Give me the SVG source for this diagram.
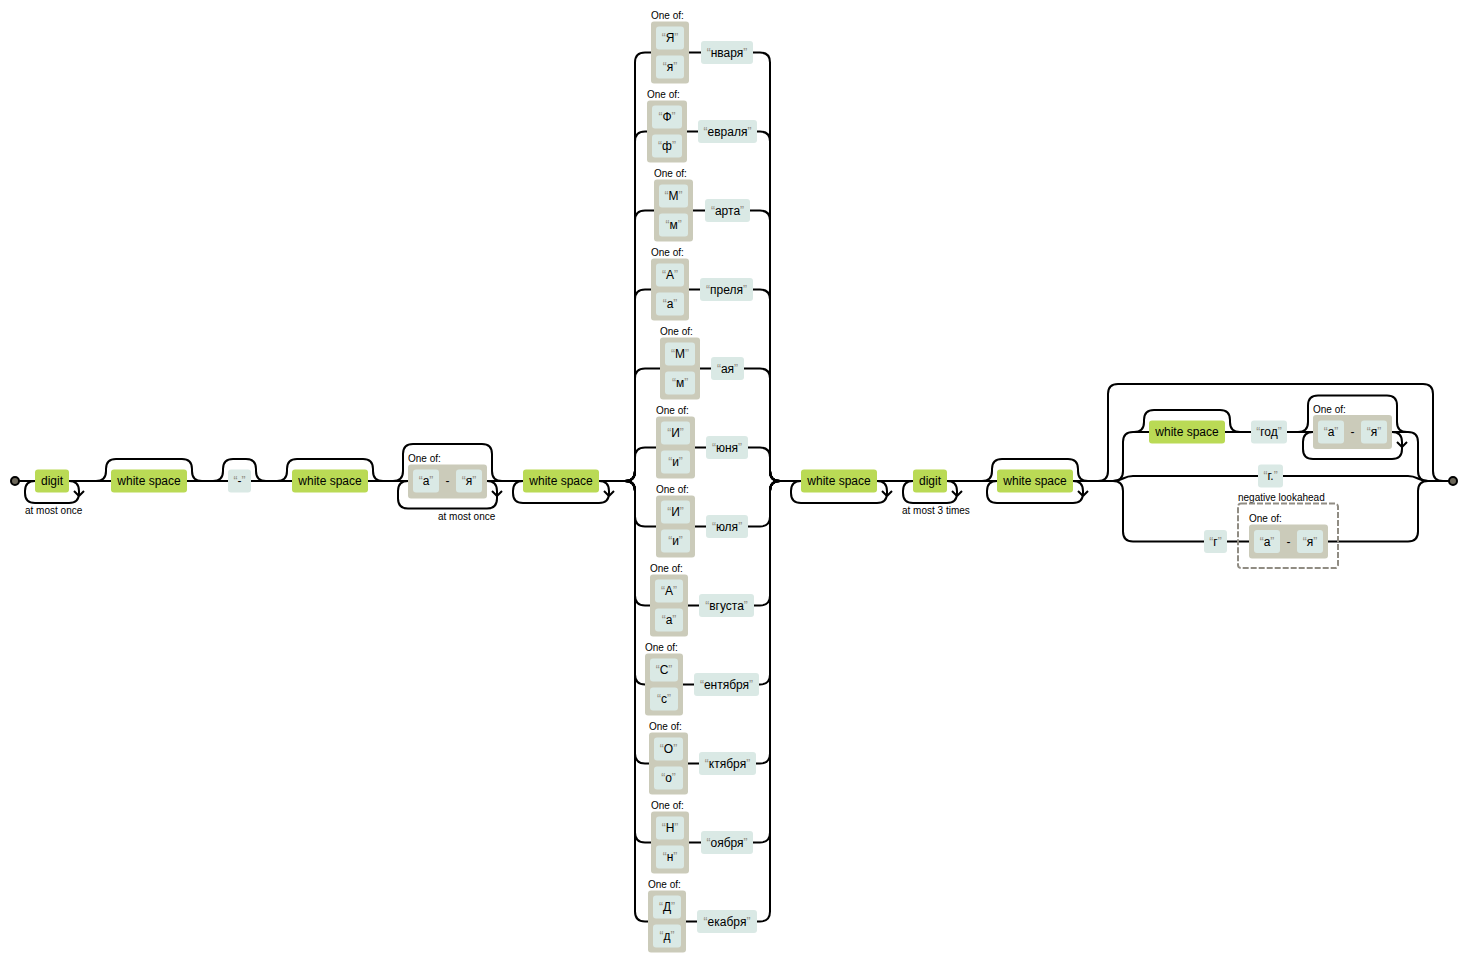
<svg xmlns="http://www.w3.org/2000/svg" width="1468" height="963" viewBox="0 0 1468 963">
<style>
text { font-family: "Liberation Sans", Arial, sans-serif; font-size: 12px; fill: #000; }
.m { text-anchor: middle; }
.s { font-size: 10px; }
.q { fill: #908c83; }
.conn path { fill: none; stroke: #000; stroke-width: 2; }
.lit { fill: #dae9e5; }
.esc { fill: #bada55; }
.cs { fill: #cbcbba; }
.la { fill: none; stroke: #908c83; stroke-width: 2; stroke-dasharray: 6,2; }
.pt { fill: #6b6659; stroke: #000; stroke-width: 2; }
</style>
<rect width="1468" height="963" fill="#fff"/>
<g class="conn" id="connectors">
<path d="M15,481 H625"/>
<path d="M780,481 H1113"/>
<path d="M1428,481 H1453"/>
<!-- digit loop -->
<path d="M35,481 q-10,0 -10,10 v2 q0,10 10,10 h34 q10,0 10,-10 v-2 q0,-10 -10,-10"/>
<path d="M79,496 l-5,-5 m5,5 l5,-5"/>
<!-- skips -->
<path d="M96,481 q10,0 10,-10 v-2 q0,-10 10,-10 H182 q10,0 10,10 v2 q0,10 10,10"/>
<path d="M213,481 q10,0 10,-10 v-2 q0,-10 10,-10 H246 q10,0 10,10 v2 q0,10 10,10"/>
<path d="M277,481 q10,0 10,-10 v-2 q0,-10 10,-10 H363 q10,0 10,10 v2 q0,10 10,10"/>
<path d="M393,481 q10,0 10,-10 v-17 q0,-10 10,-10 H482 q10,0 10,10 v17 q0,10 10,10"/>
<path d="M408,481 q-10,0 -10,10 v7.5 q0,10 10,10 h79 q10,0 10,-10 v-7.5 q0,-10 -10,-10"/>
<path d="M497,496 l-5,-5 m5,5 l5,-5"/>
<path d="M523,481 q-10,0 -10,10 v2 q0,10 10,10 h76 q10,0 10,-10 v-2 q0,-10 -10,-10"/>
<path d="M609,496 l-5,-5 m5,5 l5,-5"/>
<!-- months alternation -->
<path d="M625,481 q10,0 10,-10 V62.5 q0,-10 10,-10 H760 q10,0 10,10 V471 q0,10 10,10"/>
<path d="M625,481 q10,0 10,-10 V141.5 q0,-10 10,-10 H760 q10,0 10,10 V471 q0,10 10,10"/>
<path d="M625,481 q10,0 10,-10 V220.5 q0,-10 10,-10 H760 q10,0 10,10 V471 q0,10 10,10"/>
<path d="M625,481 q10,0 10,-10 V299.5 q0,-10 10,-10 H760 q10,0 10,10 V471 q0,10 10,10"/>
<path d="M625,481 q10,0 10,-10 V378.5 q0,-10 10,-10 H760 q10,0 10,10 V471 q0,10 10,10"/>
<path d="M625,481 q10,0 10,-10 V457.5 q0,-10 10,-10 H760 q10,0 10,10 V471 q0,10 10,10"/>
<path d="M625,481 q10,0 10,10 V516.5 q0,10 10,10 H760 q10,0 10,-10 V491 q0,-10 10,-10"/>
<path d="M625,481 q10,0 10,10 V595.5 q0,10 10,10 H760 q10,0 10,-10 V491 q0,-10 10,-10"/>
<path d="M625,481 q10,0 10,10 V674.5 q0,10 10,10 H760 q10,0 10,-10 V491 q0,-10 10,-10"/>
<path d="M625,481 q10,0 10,10 V753.5 q0,10 10,10 H760 q10,0 10,-10 V491 q0,-10 10,-10"/>
<path d="M625,481 q10,0 10,10 V832.5 q0,10 10,10 H760 q10,0 10,-10 V491 q0,-10 10,-10"/>
<path d="M625,481 q10,0 10,10 V911.5 q0,10 10,10 H760 q10,0 10,-10 V491 q0,-10 10,-10"/>
<!-- after months -->
<path d="M801,481 q-10,0 -10,10 v2 q0,10 10,10 h76 q10,0 10,-10 v-2 q0,-10 -10,-10"/>
<path d="M887,496 l-5,-5 m5,5 l5,-5"/>
<path d="M913,481 q-10,0 -10,10 v2 q0,10 10,10 h34 q10,0 10,-10 v-2 q0,-10 -10,-10"/>
<path d="M957,496 l-5,-5 m5,5 l5,-5"/>
<path d="M982,481 q10,0 10,-10 v-2 q0,-10 10,-10 H1068 q10,0 10,10 v2 q0,10 10,10"/>
<path d="M997,481 q-10,0 -10,10 v2 q0,10 10,10 h76 q10,0 10,-10 v-2 q0,-10 -10,-10"/>
<path d="M1083,496 l-5,-5 m5,5 l5,-5"/>
<!-- outer optional group -->
<path d="M1098,481 q10,0 10,-10 V394 q0,-10 10,-10 H1423 q10,0 10,10 V471 q0,10 10,10"/>
<!-- inner alternation -->
<path d="M1113,481 q10,0 10,-10 V442 q0,-10 10,-10 H1408 q10,0 10,10 V471 q0,10 10,10"/>
<path d="M1113,481 c10,0 10,-5 20,-5 H1408 c10,0 10,5 20,5"/>
<path d="M1113,481 q10,0 10,10 V531.5 q0,10 10,10 H1408 q10,0 10,-10 V491 q0,-10 10,-10"/>
<path d="M1134,432 q10,0 10,-10 v-2 q0,-10 10,-10 H1220 q10,0 10,10 v2 q0,10 10,10"/>
<path d="M1298,432 q10,0 10,-10 v-16.5 q0,-10 10,-10 H1387 q10,0 10,10 v16.5 q0,10 10,10"/>
<path d="M1313,432 q-10,0 -10,10 v7 q0,10 10,10 h79 q10,0 10,-10 v-7 q0,-10 -10,-10"/>
<path d="M1402,447 l-5,-5 m5,5 l5,-5"/>
</g>
<g id="start"><circle class="pt" cx="15" cy="481" r="4"/></g>
<g id="end"><circle class="pt" cx="1453" cy="481" r="4"/></g>
<g id="digit1">
<rect class="esc" x="35" y="469.5" width="34" height="23" rx="3"/>
<text class="m" x="52" y="485">digit</text>
<text class="s" x="25" y="514">at most once</text>
</g>
<g id="ws1">
<rect class="esc" x="111" y="469.5" width="76" height="23" rx="3"/>
<text class="m" x="149" y="485">white space</text>
</g>
<g id="dash">
<rect class="lit" x="228" y="469.5" width="23" height="23" rx="3"/>
<text class="m" x="239.5" y="485"><tspan class="q">“</tspan>-<tspan class="q">”</tspan></text>
</g>
<g id="ws2">
<rect class="esc" x="292" y="469.5" width="76" height="23" rx="3"/>
<text class="m" x="330" y="485">white space</text>
</g>
<g id="cs1">
<text class="s" x="408" y="462">One of:</text>
<rect class="cs" x="408" y="464.5" width="79" height="34" rx="3"/>
<rect class="lit" x="413" y="469.5" width="26" height="23" rx="3"/>
<text class="m" x="426" y="485"><tspan class="q">“</tspan>а<tspan class="q">”</tspan></text>
<text class="m" x="447.5" y="485">-</text>
<rect class="lit" x="456" y="469.5" width="26" height="23" rx="3"/>
<text class="m" x="469" y="485"><tspan class="q">“</tspan>я<tspan class="q">”</tspan></text>
<text class="s" x="438" y="520">at most once</text>
</g>
<g id="ws3">
<rect class="esc" x="523" y="469.5" width="76" height="23" rx="3"/>
<text class="m" x="561" y="485">white space</text>
</g>
<g id="m1">
<text class="s" x="651" y="19">One of:</text>
<rect class="cs" x="651" y="21.5" width="38" height="62" rx="3"/>
<rect class="lit" x="656" y="26.5" width="28" height="23" rx="3"/>
<text class="m" x="670" y="42"><tspan class="q">“</tspan>Я<tspan class="q">”</tspan></text>
<rect class="lit" x="656" y="55.5" width="28" height="23" rx="3"/>
<text class="m" x="670" y="71"><tspan class="q">“</tspan>я<tspan class="q">”</tspan></text>
<rect class="lit" x="701" y="41" width="52" height="23" rx="3"/>
<text class="m" x="727" y="56.5"><tspan class="q">“</tspan>нваря<tspan class="q">”</tspan></text>
</g>
<g id="m2">
<text class="s" x="647" y="98">One of:</text>
<rect class="cs" x="647" y="100.5" width="40" height="62" rx="3"/>
<rect class="lit" x="652" y="105.5" width="30" height="23" rx="3"/>
<text class="m" x="667" y="121"><tspan class="q">“</tspan>Ф<tspan class="q">”</tspan></text>
<rect class="lit" x="652" y="134.5" width="30" height="23" rx="3"/>
<text class="m" x="667" y="150"><tspan class="q">“</tspan>ф<tspan class="q">”</tspan></text>
<rect class="lit" x="698" y="120" width="59" height="23" rx="3"/>
<text class="m" x="727.5" y="135.5"><tspan class="q">“</tspan>евраля<tspan class="q">”</tspan></text>
</g>
<g id="m3">
<text class="s" x="654" y="177">One of:</text>
<rect class="cs" x="654" y="179.5" width="39" height="62" rx="3"/>
<rect class="lit" x="659" y="184.5" width="29" height="23" rx="3"/>
<text class="m" x="673.5" y="200"><tspan class="q">“</tspan>М<tspan class="q">”</tspan></text>
<rect class="lit" x="659" y="213.5" width="29" height="23" rx="3"/>
<text class="m" x="673.5" y="229"><tspan class="q">“</tspan>м<tspan class="q">”</tspan></text>
<rect class="lit" x="705" y="199" width="45" height="23" rx="3"/>
<text class="m" x="727.5" y="214.5"><tspan class="q">“</tspan>арта<tspan class="q">”</tspan></text>
</g>
<g id="m4">
<text class="s" x="651" y="256">One of:</text>
<rect class="cs" x="651" y="258.5" width="38" height="62" rx="3"/>
<rect class="lit" x="656" y="263.5" width="28" height="23" rx="3"/>
<text class="m" x="670" y="279"><tspan class="q">“</tspan>А<tspan class="q">”</tspan></text>
<rect class="lit" x="656" y="292.5" width="28" height="23" rx="3"/>
<text class="m" x="670" y="308"><tspan class="q">“</tspan>а<tspan class="q">”</tspan></text>
<rect class="lit" x="700" y="278" width="53" height="23" rx="3"/>
<text class="m" x="726.5" y="293.5"><tspan class="q">“</tspan>преля<tspan class="q">”</tspan></text>
</g>
<g id="m5">
<text class="s" x="660" y="335">One of:</text>
<rect class="cs" x="660" y="337.5" width="40" height="62" rx="3"/>
<rect class="lit" x="665" y="342.5" width="30" height="23" rx="3"/>
<text class="m" x="680" y="358"><tspan class="q">“</tspan>М<tspan class="q">”</tspan></text>
<rect class="lit" x="665" y="371.5" width="30" height="23" rx="3"/>
<text class="m" x="680" y="387"><tspan class="q">“</tspan>м<tspan class="q">”</tspan></text>
<rect class="lit" x="711" y="357" width="33" height="23" rx="3"/>
<text class="m" x="727.5" y="372.5"><tspan class="q">“</tspan>ая<tspan class="q">”</tspan></text>
</g>
<g id="m6">
<text class="s" x="656" y="414">One of:</text>
<rect class="cs" x="656" y="416.5" width="39" height="62" rx="3"/>
<rect class="lit" x="661" y="421.5" width="29" height="23" rx="3"/>
<text class="m" x="675.5" y="437"><tspan class="q">“</tspan>И<tspan class="q">”</tspan></text>
<rect class="lit" x="661" y="450.5" width="29" height="23" rx="3"/>
<text class="m" x="675.5" y="466"><tspan class="q">“</tspan>и<tspan class="q">”</tspan></text>
<rect class="lit" x="706" y="436" width="42" height="23" rx="3"/>
<text class="m" x="727" y="451.5"><tspan class="q">“</tspan>юня<tspan class="q">”</tspan></text>
</g>
<g id="m7">
<text class="s" x="656" y="493">One of:</text>
<rect class="cs" x="656" y="495.5" width="39" height="62" rx="3"/>
<rect class="lit" x="661" y="500.5" width="29" height="23" rx="3"/>
<text class="m" x="675.5" y="516"><tspan class="q">“</tspan>И<tspan class="q">”</tspan></text>
<rect class="lit" x="661" y="529.5" width="29" height="23" rx="3"/>
<text class="m" x="675.5" y="545"><tspan class="q">“</tspan>и<tspan class="q">”</tspan></text>
<rect class="lit" x="706" y="515" width="42" height="23" rx="3"/>
<text class="m" x="727" y="530.5"><tspan class="q">“</tspan>юля<tspan class="q">”</tspan></text>
</g>
<g id="m8">
<text class="s" x="650" y="572">One of:</text>
<rect class="cs" x="650" y="574.5" width="38" height="62" rx="3"/>
<rect class="lit" x="655" y="579.5" width="28" height="23" rx="3"/>
<text class="m" x="669" y="595"><tspan class="q">“</tspan>А<tspan class="q">”</tspan></text>
<rect class="lit" x="655" y="608.5" width="28" height="23" rx="3"/>
<text class="m" x="669" y="624"><tspan class="q">“</tspan>а<tspan class="q">”</tspan></text>
<rect class="lit" x="699" y="594" width="55" height="23" rx="3"/>
<text class="m" x="726.5" y="609.5"><tspan class="q">“</tspan>вгуста<tspan class="q">”</tspan></text>
</g>
<g id="m9">
<text class="s" x="645" y="651">One of:</text>
<rect class="cs" x="645" y="653.5" width="38" height="62" rx="3"/>
<rect class="lit" x="650" y="658.5" width="28" height="23" rx="3"/>
<text class="m" x="664" y="674"><tspan class="q">“</tspan>С<tspan class="q">”</tspan></text>
<rect class="lit" x="650" y="687.5" width="28" height="23" rx="3"/>
<text class="m" x="664" y="703"><tspan class="q">“</tspan>с<tspan class="q">”</tspan></text>
<rect class="lit" x="694" y="673" width="65" height="23" rx="3"/>
<text class="m" x="726.5" y="688.5"><tspan class="q">“</tspan>ентября<tspan class="q">”</tspan></text>
</g>
<g id="m10">
<text class="s" x="649" y="730">One of:</text>
<rect class="cs" x="649" y="732.5" width="39" height="62" rx="3"/>
<rect class="lit" x="654" y="737.5" width="29" height="23" rx="3"/>
<text class="m" x="668.5" y="753"><tspan class="q">“</tspan>О<tspan class="q">”</tspan></text>
<rect class="lit" x="654" y="766.5" width="29" height="23" rx="3"/>
<text class="m" x="668.5" y="782"><tspan class="q">“</tspan>о<tspan class="q">”</tspan></text>
<rect class="lit" x="699" y="752" width="57" height="23" rx="3"/>
<text class="m" x="727.5" y="767.5"><tspan class="q">“</tspan>ктября<tspan class="q">”</tspan></text>
</g>
<g id="m11">
<text class="s" x="651" y="809">One of:</text>
<rect class="cs" x="651" y="811.5" width="38" height="62" rx="3"/>
<rect class="lit" x="656" y="816.5" width="28" height="23" rx="3"/>
<text class="m" x="670" y="832"><tspan class="q">“</tspan>Н<tspan class="q">”</tspan></text>
<rect class="lit" x="656" y="845.5" width="28" height="23" rx="3"/>
<text class="m" x="670" y="861"><tspan class="q">“</tspan>н<tspan class="q">”</tspan></text>
<rect class="lit" x="701" y="831" width="52" height="23" rx="3"/>
<text class="m" x="727" y="846.5"><tspan class="q">“</tspan>оября<tspan class="q">”</tspan></text>
</g>
<g id="m12">
<text class="s" x="648" y="888">One of:</text>
<rect class="cs" x="648" y="890.5" width="38" height="62" rx="3"/>
<rect class="lit" x="653" y="895.5" width="28" height="23" rx="3"/>
<text class="m" x="667" y="911"><tspan class="q">“</tspan>Д<tspan class="q">”</tspan></text>
<rect class="lit" x="653" y="924.5" width="28" height="23" rx="3"/>
<text class="m" x="667" y="940"><tspan class="q">“</tspan>д<tspan class="q">”</tspan></text>
<rect class="lit" x="697" y="910" width="60" height="23" rx="3"/>
<text class="m" x="727" y="925.5"><tspan class="q">“</tspan>екабря<tspan class="q">”</tspan></text>
</g>
<g id="ws4">
<rect class="esc" x="801" y="469.5" width="76" height="23" rx="3"/>
<text class="m" x="839" y="485">white space</text>
</g>
<g id="digit2">
<rect class="esc" x="913" y="469.5" width="34" height="23" rx="3"/>
<text class="m" x="930" y="485">digit</text>
<text class="s" x="902" y="514">at most 3 times</text>
</g>
<g id="ws5">
<rect class="esc" x="997" y="469.5" width="76" height="23" rx="3"/>
<text class="m" x="1035" y="485">white space</text>
</g>
<g id="ws6">
<rect class="esc" x="1149" y="420.5" width="76" height="23" rx="3"/>
<text class="m" x="1187" y="436">white space</text>
</g>
<g id="god">
<rect class="lit" x="1251" y="420.5" width="36" height="23" rx="3"/>
<text class="m" x="1269" y="436"><tspan class="q">“</tspan>год<tspan class="q">”</tspan></text>
</g>
<g id="cs2">
<text class="s" x="1313" y="412.5">One of:</text>
<rect class="cs" x="1313" y="415" width="79" height="34" rx="3"/>
<rect class="lit" x="1318" y="420.5" width="26" height="23" rx="3"/>
<text class="m" x="1331" y="436"><tspan class="q">“</tspan>а<tspan class="q">”</tspan></text>
<text class="m" x="1352.5" y="436">-</text>
<rect class="lit" x="1361" y="420.5" width="26" height="23" rx="3"/>
<text class="m" x="1374" y="436"><tspan class="q">“</tspan>я<tspan class="q">”</tspan></text>
</g>
<g id="gdot">
<rect class="lit" x="1258" y="464.5" width="25" height="23" rx="3"/>
<text class="m" x="1270.5" y="480"><tspan class="q">“</tspan>г.<tspan class="q">”</tspan></text>
</g>
<g id="g">
<rect class="lit" x="1204" y="530" width="23" height="23" rx="3"/>
<text class="m" x="1215.5" y="545.5"><tspan class="q">“</tspan>г<tspan class="q">”</tspan></text>
</g>
<g id="lookahead">
<text class="s" x="1238" y="501">negative lookahead</text>
<rect class="la" x="1238" y="503.5" width="100" height="64.5" rx="3"/>
<text class="s" x="1249" y="522">One of:</text>
<rect class="cs" x="1249" y="524.5" width="79" height="34" rx="3"/>
<rect class="lit" x="1254" y="530" width="26" height="23" rx="3"/>
<text class="m" x="1267" y="545.5"><tspan class="q">“</tspan>а<tspan class="q">”</tspan></text>
<text class="m" x="1288.5" y="545.5">-</text>
<rect class="lit" x="1297" y="530" width="26" height="23" rx="3"/>
<text class="m" x="1310" y="545.5"><tspan class="q">“</tspan>я<tspan class="q">”</tspan></text>
</g>
</svg>
